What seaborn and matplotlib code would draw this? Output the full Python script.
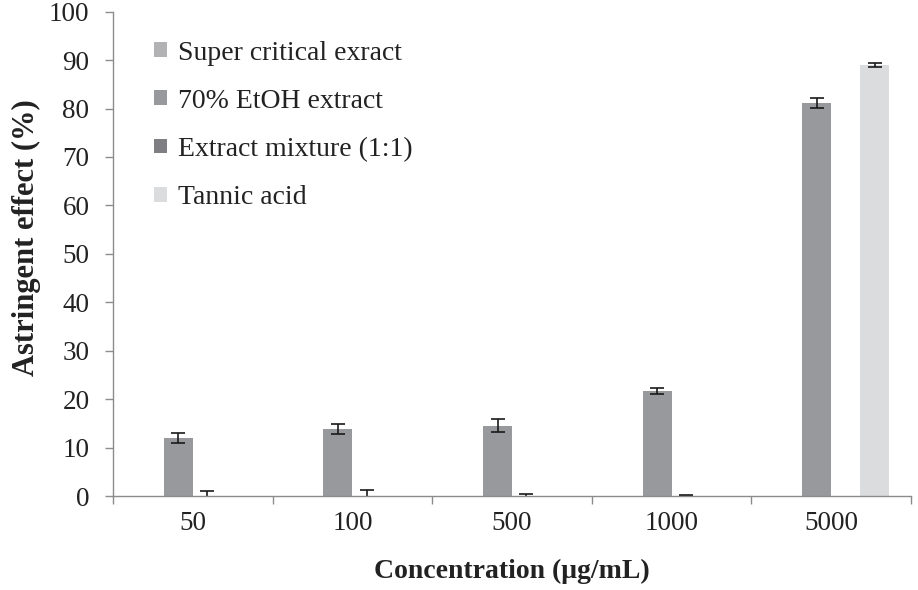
import numpy as np
import pandas as pd
import matplotlib
matplotlib.use("Agg")
import matplotlib.pyplot as plt
import seaborn as sns
from matplotlib.patches import Patch

concentrations = ["50", "100", "500", "1000", "5000"]
series = ["Super critical exract", "70% EtOH extract", "Extract mixture (1:1)", "Tannic acid"]
supercritical = [0.0, 0.0, 0.0, 0.0, 0.0]
supercritical_err = [np.nan, np.nan, np.nan, np.nan, np.nan]
etoh70 = [12.0, 13.8, 14.5, 21.7, 81.2]
etoh70_err = [1.0, 1.1, 1.3, 0.6, 1.0]
mixture = [0.0, 0.1, 0.0, 0.1, 0.0]
mixture_err = [1.0, 1.2, 0.4, 0.05, np.nan]
tannic = [0.0, 0.0, 0.0, 0.0, 89.0]
tannic_err = [np.nan, np.nan, np.nan, np.nan, 0.5]
colors = ["#b2b2b5", "#98999d", "#7f7f83", "#dbdcde"]

values = [supercritical, etoh70, mixture, tannic]
errs = [supercritical_err, etoh70_err, mixture_err, tannic_err]

rows = []
for s, vals, es in zip(series, values, errs):
    for c, v, e in zip(concentrations, vals, es):
        rows.append({"Concentration": c, "Series": s, "Value": v, "Err": e})
df = pd.DataFrame(rows)

sns.set_style("white")
plt.rcParams["font.family"] = ["Liberation Serif", "DejaVu Serif"]

fig = plt.figure(figsize=(9.18, 5.90), dpi=100)
ax = fig.add_axes([113/918, 94/590, (911-113)/918, (496-11.7)/590])

sns.barplot(data=df, x="Concentration", y="Value", hue="Series",
            order=concentrations, hue_order=series, palette=colors,
            width=0.725, errorbar=None, ax=ax, legend=False,
            saturation=1, linewidth=0)

for cont, s in zip(ax.containers, series):
    sub = df[df["Series"] == s].set_index("Concentration").loc[concentrations]
    for patch, v, e in zip(cont.patches, sub["Value"], sub["Err"]):
        if np.isnan(e):
            continue
        xc = patch.get_x() + patch.get_width() / 2
        ax.errorbar(xc, v, yerr=e, fmt="none", ecolor="#1a1a1a",
                    elinewidth=1.2, capsize=5, capthick=1.2)

ax.set_ylim(0, 100)
ax.set_xlim(-0.5, len(concentrations) - 0.5)
ax.set_yticks(np.arange(0, 101, 10))
ax.set_xticks(range(len(concentrations)))
ax.set_xticklabels(concentrations)
ax.set_xticks(np.arange(-0.5, len(concentrations), 1.0), minor=True)

spine_color = "#8c8c8c"
for sp in ["top", "right"]:
    ax.spines[sp].set_visible(False)
for sp in ["left", "bottom"]:
    ax.spines[sp].set_color(spine_color)
    ax.spines[sp].set_linewidth(1.0)

ax.tick_params(axis="y", which="major", direction="out", length=6, width=1,
               color=spine_color, labelsize=19.5, pad=11, left=True,
               labelcolor="#222222")
ax.tick_params(axis="x", which="major", length=0, labelsize=19.5, pad=11,
               labelcolor="#222222")
ax.tick_params(axis="x", which="minor", direction="out", length=6, width=1,
               color=spine_color, bottom=True)

ax.set_ylabel("Astringent effect (%)", fontsize=22, fontweight="bold",
              color="#222222")
ax.yaxis.set_label_coords(-0.090, 0.533)
ax.set_xlabel("Concentration (μg/mL)", fontsize=20, fontweight="bold",
              labelpad=16, color="#222222")

handles = [Patch(facecolor=c, edgecolor="none") for c in colors]
ax.legend(handles, series, loc="upper left", bbox_to_anchor=(0.052, 0.94),
          frameon=False, fontsize=20, handlelength=0.45, handleheight=0.45,
          handletextpad=0.38, labelspacing=0.83, borderpad=0, borderaxespad=0,
          labelcolor="#222222")

fig.savefig("out.png", dpi=100)
